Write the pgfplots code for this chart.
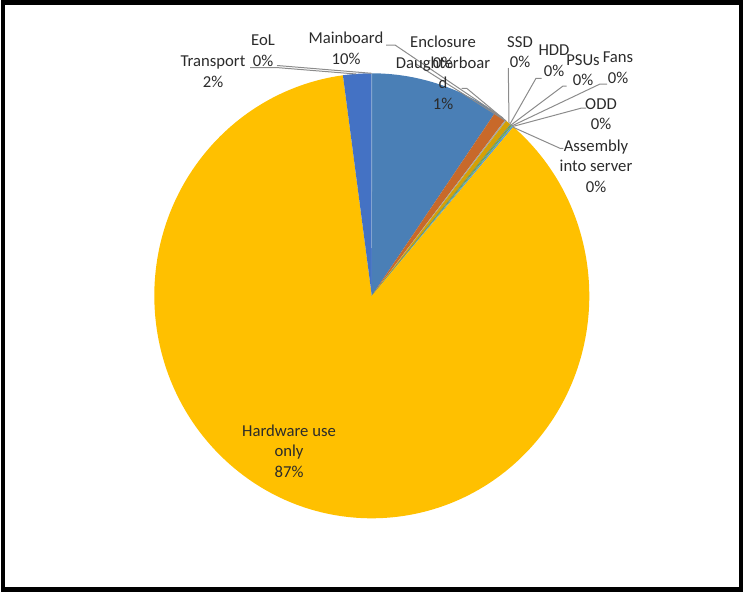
\documentclass[border=0pt]{standalone}
\usepackage{fontspec}
\setmainfont{Carlito}
\usepackage{pgfplots}
\usepackage{pgfplotstable}
\pgfplotsset{compat=1.18}

\definecolor{cMain}{HTML}{4A7FB6}
\definecolor{cDaughter}{HTML}{C8692A}
\definecolor{cEncl}{HTML}{A5A5A5}
\definecolor{cSSD}{HTML}{D4A106}
\definecolor{cHDD}{HTML}{4472C4}
\definecolor{cPSU}{HTML}{70AD47}
\definecolor{cFan}{HTML}{255E91}
\definecolor{cODD}{HTML}{70AD47}
\definecolor{cAsm}{HTML}{5B9BD5}
\definecolor{cHW}{HTML}{FFC000}
\definecolor{cTrans}{HTML}{4472C4}
\definecolor{cEoL}{HTML}{8FAFC8}
\definecolor{txt}{HTML}{2B2B2B}
\definecolor{lead}{HTML}{8C8C8C}

% shares in percent, clockwise from 12 o'clock
\pgfplotstableread{
share colour
9.6   cMain
0.9   cDaughter
0.1   cEncl
0.4   cSSD
0.02  cHDD
0.02  cPSU
0.02  cFan
0.1   cODD
0.12  cAsm
86.6  cHW
2.1   cTrans
0.05  cEoL
}\piedata

\begin{document}
\begin{tikzpicture}[
  lbl/.style={align=center, text=txt, inner sep=0pt,
    font=\fontsize{12.5}{15.5}\selectfont},
  ldr/.style={lead, line width=0.75pt},
]
\begin{axis}[
  width=561pt, height=444.75pt, scale only axis,
  xmin=0, xmax=748, ymin=0, ymax=593, y dir=reverse,
  axis lines=none, clip=false,
]
% keep the whole canvas in the bounding box
\path (axis cs:0,0) rectangle (axis cs:748,593);

% pie slices (1 px = 0.75pt)
\pgfplotstablegetrowsof{\piedata}
\pgfmathtruncatemacro\lastrow{\pgfplotsretval-1}
\gdef\cum{0}
\pgfplotsinvokeforeach{0,...,\lastrow}{
  \pgfplotstablegetelem{#1}{share}\of\piedata \let\sh\pgfplotsretval
  \pgfplotstablegetelem{#1}{colour}\of\piedata \let\col\pgfplotsretval
  \pgfmathsetmacro\aS{90-3.6*\cum}
  \pgfmathsetmacro\aE{90-3.6*(\cum+\sh)}
  \edef\doslice{\noexpand\fill[\col] (axis cs:371.8,295.8) -- ++(\aS:163.125pt and 166.875pt)
    arc[start angle=\aS, end angle=\aE, x radius=163.125pt, y radius=166.875pt] -- cycle;}
  \doslice
  \pgfmathsetmacro\newcum{\cum+\sh}
  \xdef\cum{\newcum}
}

% leader lines
\draw[ldr] (axis cs:250,67.5) -- (axis cs:276,67.5) -- (axis cs:356,74);
\draw[ldr] (axis cs:277,65.5) -- (axis cs:371.5,73.3);
\draw[ldr] (axis cs:386,45) -- (axis cs:395,45) -- (axis cs:503,118);
\draw[ldr] (axis cs:416,64) -- (axis cs:506,121);
\draw[ldr] (axis cs:461.5,88.3) -- (axis cs:466.7,88.3) -- (axis cs:506,121);
\draw[ldr] (axis cs:508.3,68) -- (axis cs:509,123);
\draw[ldr] (axis cs:541.7,78.3) -- (axis cs:536,78.3) -- (axis cs:510,124);
\draw[ldr] (axis cs:566.7,86) -- (axis cs:563,86) -- (axis cs:511,125);
\draw[ldr] (axis cs:607,84) -- (axis cs:600,84) -- (axis cs:511.7,126);
\draw[ldr] (axis cs:586,108) -- (axis cs:581.7,108) -- (axis cs:512.7,126.5);
\draw[ldr] (axis cs:563.3,148.3) -- (axis cs:560,148.3) -- (axis cs:513.3,127.3);

% data labels
\node[lbl] at (axis cs:213,72) {Transport\\2\%};
\node[lbl] at (axis cs:263,51) {EoL\\0\%};
\node[lbl] at (axis cs:346,48) {Mainboard\\10\%};
\node[lbl] at (axis cs:443,52) {Enclosure\\0\%};
\node[lbl] at (axis cs:443,83) {Daughterboar\\d\\1\%};
\node[lbl] at (axis cs:520,52) {SSD\\0\%};
\node[lbl] at (axis cs:554,61) {HDD\\0\%};
\node[lbl] at (axis cs:583,70) {PSUs\\0\%};
\node[lbl] at (axis cs:618,68) {Fans\\0\%};
\node[lbl] at (axis cs:601,114) {ODD\\0\%};
\node[lbl] at (axis cs:596,166) {Assembly\\into server\\0\%};
\node[lbl] at (axis cs:289,451) {Hardware use\\only\\87\%};

% frame
\draw[black, line width=3.4pt] (axis cs:3,2.4) rectangle (axis cs:741,589.5);
\end{axis}
\end{tikzpicture}
\end{document}
